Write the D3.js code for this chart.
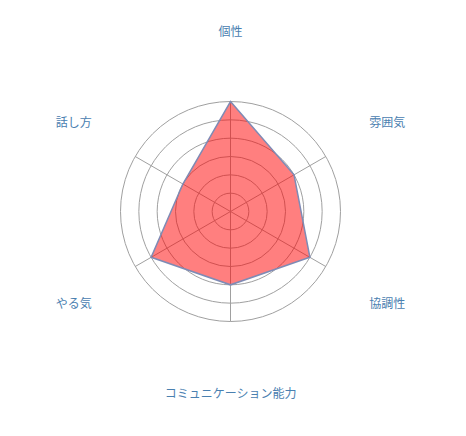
<!DOCTYPE html>
<html><head><meta charset="utf-8">
<script src="https://cdn.jsdelivr.net/npm/d3@7"></script>
<style>html,body{margin:0;padding:0;background:#fff;}</style>
</head><body>
<svg id="c" width="466" height="436"></svg>
<script>
const categories = ["個性","雰囲気","協調性","コミュニケーション能力","やる気","話し方"];
const values = [6,4,5,4,5,3];
const ringTicks = [1,2,3,4,5,6];

const svg = d3.select("#c");
const cx = 230.5, cy = 211.5, R = 110, labelR = 181;
const r = d3.scaleLinear().domain([0,6]).range([0,R]);
const ang = d3.scaleLinear().domain([0,categories.length]).range([0,2*Math.PI]);
const g = svg.append("g").attr("transform",`translate(${cx},${cy})`);

g.selectAll("circle.ring").data(ringTicks).enter().append("circle")
  .attr("r", d=>r(d)).attr("fill","none").attr("stroke","#a0a0a0").attr("stroke-width",1);

g.selectAll("line.spoke").data(categories).enter().append("line")
  .attr("x1",0).attr("y1",0)
  .attr("x2",(d,i)=>r(6)*Math.sin(ang(i)))
  .attr("y2",(d,i)=>-r(6)*Math.cos(ang(i)))
  .attr("stroke","#a0a0a0").attr("stroke-width",1);

const line = d3.lineRadial().angle((d,i)=>ang(i)).radius(d=>r(d)).curve(d3.curveLinearClosed);
g.append("path").datum(values).attr("d",line)
  .attr("fill","rgba(255,0,0,0.5)").attr("stroke","#7f8bb5").attr("stroke-width",1.5);

g.selectAll("text.lab").data(categories).enter().append("text")
  .attr("x",(d,i)=>labelR*Math.sin(ang(i)))
  .attr("y",(d,i)=>-labelR*Math.cos(ang(i)))
  .attr("text-anchor","middle").attr("dominant-baseline","central")
  .attr("font-family","'Noto Sans CJK JP', sans-serif").attr("font-size",12)
  .attr("fill","#4a80b0").text(d=>d);
</script>
</body></html>
